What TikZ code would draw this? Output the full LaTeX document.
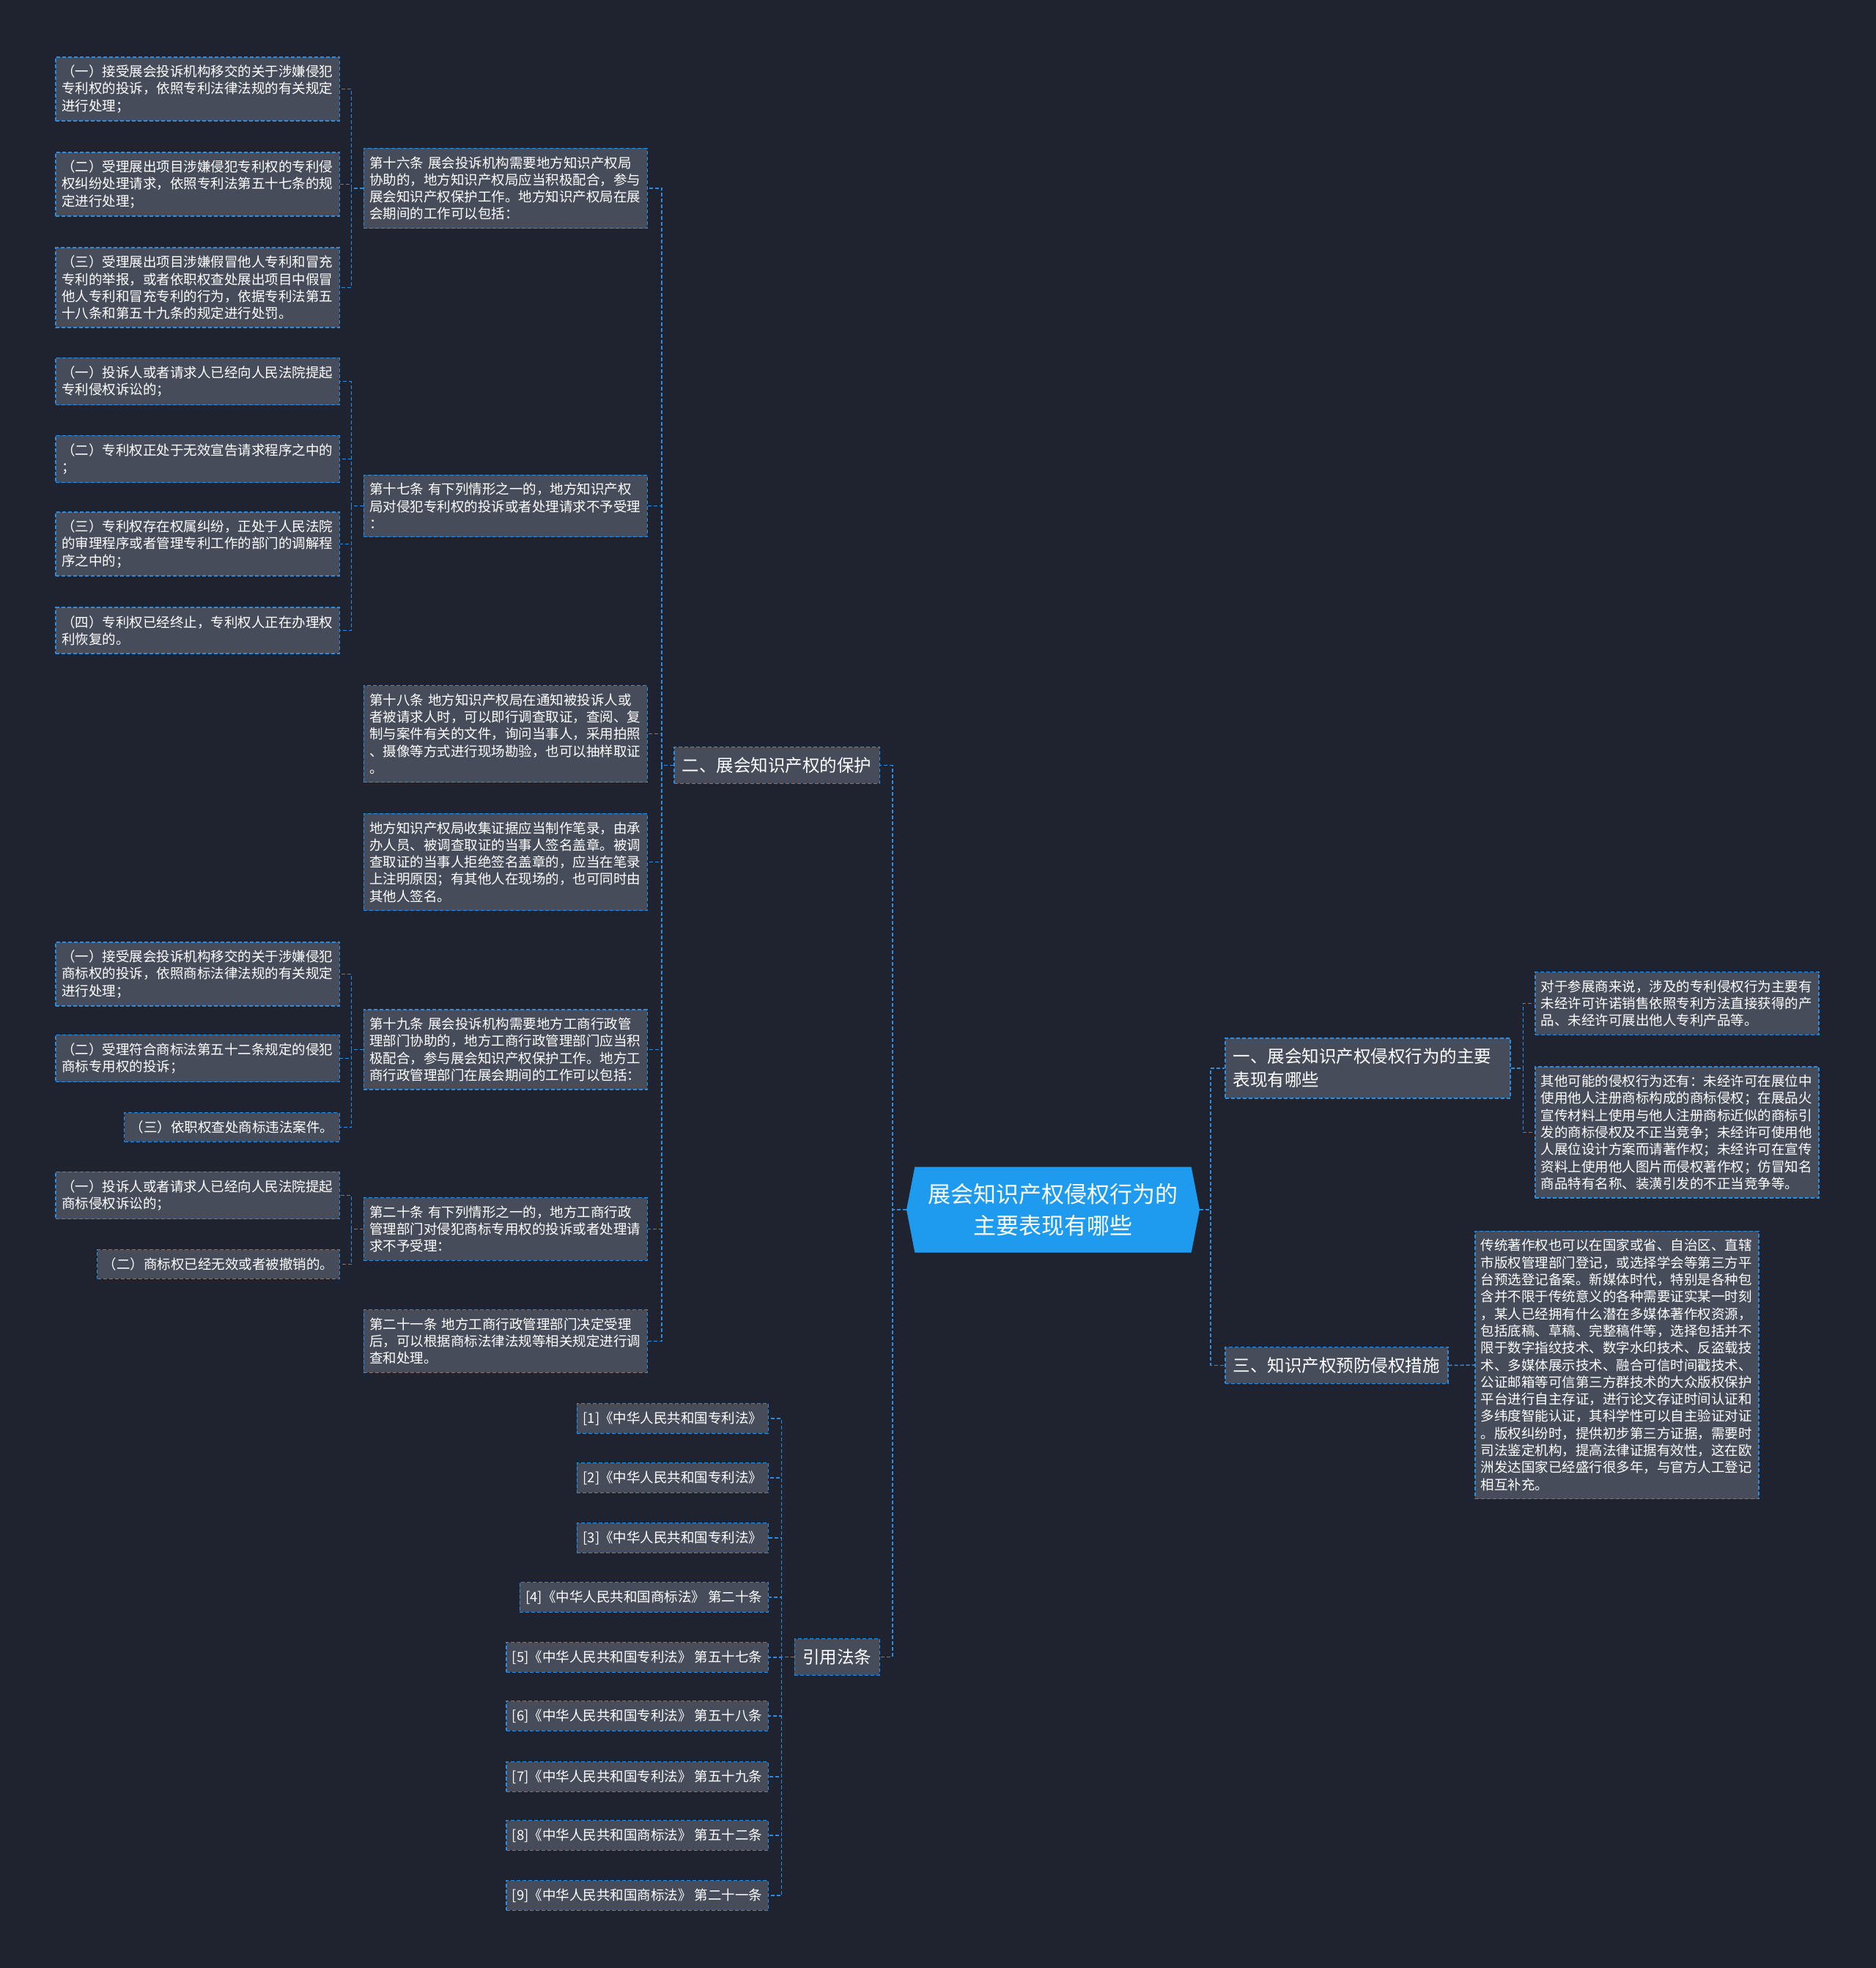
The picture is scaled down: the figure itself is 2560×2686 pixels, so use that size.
\documentclass[tikz,border=0pt]{standalone}
\usepackage{fontspec}
\usepackage{tikz}
\usetikzlibrary{shapes.symbols}
\newfontfamily\cjk{Noto Sans CJK SC}
\definecolor{bgc}{HTML}{1F2330}
\definecolor{boxc}{HTML}{464C5A}
\definecolor{linec}{HTML}{2B8DE0}
\definecolor{rootc}{HTML}{1E9BEF}

\begin{document}
\begin{tikzpicture}[x=1bp,y=-1bp,
  leaf/.style={draw=linec,dash pattern=on 5bp off 3bp,line width=1.5bp,fill=boxc,text=white,
    font=\cjk\fontsize{18.5bp}{23.3bp}\selectfont,inner xsep=8bp,inner ysep=11bp,align=left},
  wide/.style={leaf,text width=371bp},
  branch/.style={leaf,font=\cjk\fontsize{23.5bp}{32bp}\selectfont,inner xsep=11bp,inner ysep=14bp},
  link/.style={draw=linec,dash pattern=on 5bp off 3bp,line width=1.5bp},
  root/.style={shape=signal,signal to=west and east,signal pointer angle=158,fill=rootc,text=white,
    font=\cjk\fontsize{31bp}{43bp}\selectfont,align=center,minimum width=400bp,minimum height=117bp,inner sep=0pt}]
% Canvas
\useasboundingbox (0,0) rectangle (2560,2686);
\fill[bgc] (0,0) rectangle (2560,2686);

% Root
\node[root] (root) at (1437,1651) {展会知识产权侵权行为的\\主要表现有哪些};

% Main branches
\node[branch,anchor=east] (sec2) at (1201,1044.5) {二、展会知识产权的保护};
\node[branch,anchor=east] (cite) at (1201,2261.5) {引用法条};
\node[branch,anchor=west,text width=367bp] (sec1) at (1671,1458) {一、展会知识产权侵权行为的主要\\表现有哪些};
\node[branch,anchor=west] (sec3) at (1671,1863.5) {三、知识产权预防侵权措施};

% Articles under section two
\node[wide,anchor=east] (p16) at (884,257) {第十六条 展会投诉机构需要地方知识产权局\\协助的，地方知识产权局应当积极配合，参与\\展会知识产权保护工作。地方知识产权局在展\\会期间的工作可以包括：};
\node[wide,anchor=east] (p17) at (884,690.5) {第十七条 有下列情形之一的，地方知识产权\\局对侵犯专利权的投诉或者处理请求不予受理\\：};
\node[wide,anchor=east] (p18) at (884,1001.5) {第十八条 地方知识产权局在通知被投诉人或\\者被请求人时，可以即行调查取证，查阅、复\\制与案件有关的文件，询问当事人，采用拍照\\、摄像等方式进行现场勘验，也可以抽样取证\\。};
\node[wide,anchor=east] (p18b) at (884,1176.5) {地方知识产权局收集证据应当制作笔录，由承\\办人员、被调查取证的当事人签名盖章。被调\\查取证的当事人拒绝签名盖章的，应当在笔录\\上注明原因；有其他人在现场的，也可同时由\\其他人签名。};
\node[wide,anchor=east] (t19) at (884,1432.5) {第十九条 展会投诉机构需要地方工商行政管\\理部门协助的，地方工商行政管理部门应当积\\极配合，参与展会知识产权保护工作。地方工\\商行政管理部门在展会期间的工作可以包括：};
\node[wide,anchor=east] (t20) at (884,1677.5) {第二十条 有下列情形之一的，地方工商行政\\管理部门对侵犯商标专用权的投诉或者处理请\\求不予受理：};
\node[wide,anchor=east] (t21) at (884,1830.5) {第二十一条 地方工商行政管理部门决定受理\\后，可以根据商标法律法规等相关规定进行调\\查和处理。};

% Items of article 16
\node[wide,anchor=east] (p16a) at (464,121.5) {（一）接受展会投诉机构移交的关于涉嫌侵犯\\专利权的投诉，依照专利法律法规的有关规定\\进行处理；};
\node[wide,anchor=east] (p16b) at (464,251.5) {（二）受理展出项目涉嫌侵犯专利权的专利侵\\权纠纷处理请求，依照专利法第五十七条的规\\定进行处理；};
\node[wide,anchor=east] (p16c) at (464,392.5) {（三）受理展出项目涉嫌假冒他人专利和冒充\\专利的举报，或者依职权查处展出项目中假冒\\他人专利和冒充专利的行为，依据专利法第五\\十八条和第五十九条的规定进行处罚。};

% Items of article 17
\node[wide,anchor=east] (p17a) at (464,520.5) {（一）投诉人或者请求人已经向人民法院提起\\专利侵权诉讼的；};
\node[wide,anchor=east] (p17b) at (464,626.5) {（二）专利权正处于无效宣告请求程序之中的\\；};
\node[wide,anchor=east] (p17c) at (464,742.5) {（三）专利权存在权属纠纷，正处于人民法院\\的审理程序或者管理专利工作的部门的调解程\\序之中的；};
\node[wide,anchor=east] (p17d) at (464,860.5) {（四）专利权已经终止，专利权人正在办理权\\利恢复的。};

% Items of article 19
\node[wide,anchor=east] (t19a) at (464,1329.5) {（一）接受展会投诉机构移交的关于涉嫌侵犯\\商标权的投诉，依照商标法律法规的有关规定\\进行处理；};
\node[wide,anchor=east] (t19b) at (464,1444.5) {（二）受理符合商标法第五十二条规定的侵犯\\商标专用权的投诉；};
\node[leaf,anchor=east] (t19c) at (464,1538.5) {（三）依职权查处商标违法案件。};

% Items of article 20
\node[wide,anchor=east] (t20a) at (464,1631.5) {（一）投诉人或者请求人已经向人民法院提起\\商标侵权诉讼的；};
\node[leaf,anchor=east] (t20b) at (464,1725.5) {（二）商标权已经无效或者被撤销的。};

% Cited laws
\node[leaf,anchor=east] (ref1) at (1049,1936) {[1]《中华人民共和国专利法》};
\node[leaf,anchor=east] (ref2) at (1049,2017) {[2]《中华人民共和国专利法》};
\node[leaf,anchor=east] (ref3) at (1049,2099) {[3]《中华人民共和国专利法》};
\node[leaf,anchor=east] (ref4) at (1049,2180) {[4]《中华人民共和国商标法》 第二十条};
\node[leaf,anchor=east] (ref5) at (1049,2262) {[5]《中华人民共和国专利法》 第五十七条};
\node[leaf,anchor=east] (ref6) at (1049,2342) {[6]《中华人民共和国专利法》 第五十八条};
\node[leaf,anchor=east] (ref7) at (1049,2425) {[7]《中华人民共和国专利法》 第五十九条};
\node[leaf,anchor=east] (ref8) at (1049,2505) {[8]《中华人民共和国商标法》 第五十二条};
\node[leaf,anchor=east] (ref9) at (1049,2587) {[9]《中华人民共和国商标法》 第二十一条};

% Right side notes
\node[wide,anchor=west] (note1a) at (2094,1369.5) {对于参展商来说，涉及的专利侵权行为主要有\\未经许可许诺销售依照专利方法直接获得的产\\品、未经许可展出他人专利产品等。};
\node[wide,anchor=west] (note1b) at (2094,1545.5) {其他可能的侵权行为还有：未经许可在展位中\\使用他人注册商标构成的商标侵权；在展品火\\宣传材料上使用与他人注册商标近似的商标引\\发的商标侵权及不正当竞争；未经许可使用他\\人展位设计方案而请著作权；未经许可在宣传\\资料上使用他人图片而侵权著作权；仿冒知名\\商品特有名称、装潢引发的不正当竞争等。};
\node[wide,anchor=west] (note3) at (2012,1863) {传统著作权也可以在国家或省、自治区、直辖\\市版权管理部门登记，或选择学会等第三方平\\台预选登记备案。新媒体时代，特别是各种包\\含并不限于传统意义的各种需要证实某一时刻\\，某人已经拥有什么潜在多媒体著作权资源，\\包括底稿、草稿、完整稿件等，选择包括并不\\限于数字指纹技术、数字水印技术、反盗载技\\术、多媒体展示技术、融合可信时间戳技术、\\公证邮箱等可信第三方群技术的大众版权保护\\平台进行自主存证，进行论文存证时间认证和\\多纬度智能认证，其科学性可以自主验证对证\\。版权纠纷时，提供初步第三方证据，需要时\\司法鉴定机构，提高法律证据有效性，这在欧\\洲发达国家已经盛行很多年，与官方人工登记\\相互补充。};

% Root links
\draw[link] (root.west) -- ++(-19,0) |- (sec2.east);
\draw[link] (root.west) -- ++(-19,0) |- (cite.east);
\draw[link] (root.east) -- ++(15,0) |- (sec1.west);
\draw[link] (root.east) -- ++(15,0) |- (sec3.west);

% Section two links
\draw[link] (sec2.west) -- ++(-16,0) |- (p16.east);
\draw[link] (sec2.west) -- ++(-16,0) |- (p17.east);
\draw[link] (sec2.west) -- ++(-16,0) |- (p18.east);
\draw[link] (sec2.west) -- ++(-16,0) |- (p18b.east);
\draw[link] (sec2.west) -- ++(-16,0) |- (t19.east);
\draw[link] (sec2.west) -- ++(-16,0) |- (t20.east);
\draw[link] (sec2.west) -- ++(-16,0) |- (t21.east);

% Article links
\draw[link] (p16.west) -- ++(-16,0) |- (p16a.east);
\draw[link] (p16.west) -- ++(-16,0) |- (p16b.east);
\draw[link] (p16.west) -- ++(-16,0) |- (p16c.east);
\draw[link] (p17.west) -- ++(-16,0) |- (p17a.east);
\draw[link] (p17.west) -- ++(-16,0) |- (p17b.east);
\draw[link] (p17.west) -- ++(-16,0) |- (p17c.east);
\draw[link] (p17.west) -- ++(-16,0) |- (p17d.east);
\draw[link] (t19.west) -- ++(-16,0) |- (t19a.east);
\draw[link] (t19.west) -- ++(-16,0) |- (t19b.east);
\draw[link] (t19.west) -- ++(-16,0) |- (t19c.east);
\draw[link] (t20.west) -- ++(-16,0) |- (t20a.east);
\draw[link] (t20.west) -- ++(-16,0) |- (t20b.east);

% Citation links
\draw[link] (cite.west) -- ++(-17,0) |- (ref1.east);
\draw[link] (cite.west) -- ++(-17,0) |- (ref2.east);
\draw[link] (cite.west) -- ++(-17,0) |- (ref3.east);
\draw[link] (cite.west) -- ++(-17,0) |- (ref4.east);
\draw[link] (cite.west) -- ++(-17,0) |- (ref5.east);
\draw[link] (cite.west) -- ++(-17,0) |- (ref6.east);
\draw[link] (cite.west) -- ++(-17,0) |- (ref7.east);
\draw[link] (cite.west) -- ++(-17,0) |- (ref8.east);
\draw[link] (cite.west) -- ++(-17,0) |- (ref9.east);

% Right side links
\draw[link] (sec1.east) -- ++(17,0) |- (note1a.west);
\draw[link] (sec1.east) -- ++(17,0) |- (note1b.west);
\draw[link] (sec3.east) -- (note3.west);
\end{tikzpicture}
\end{document}
